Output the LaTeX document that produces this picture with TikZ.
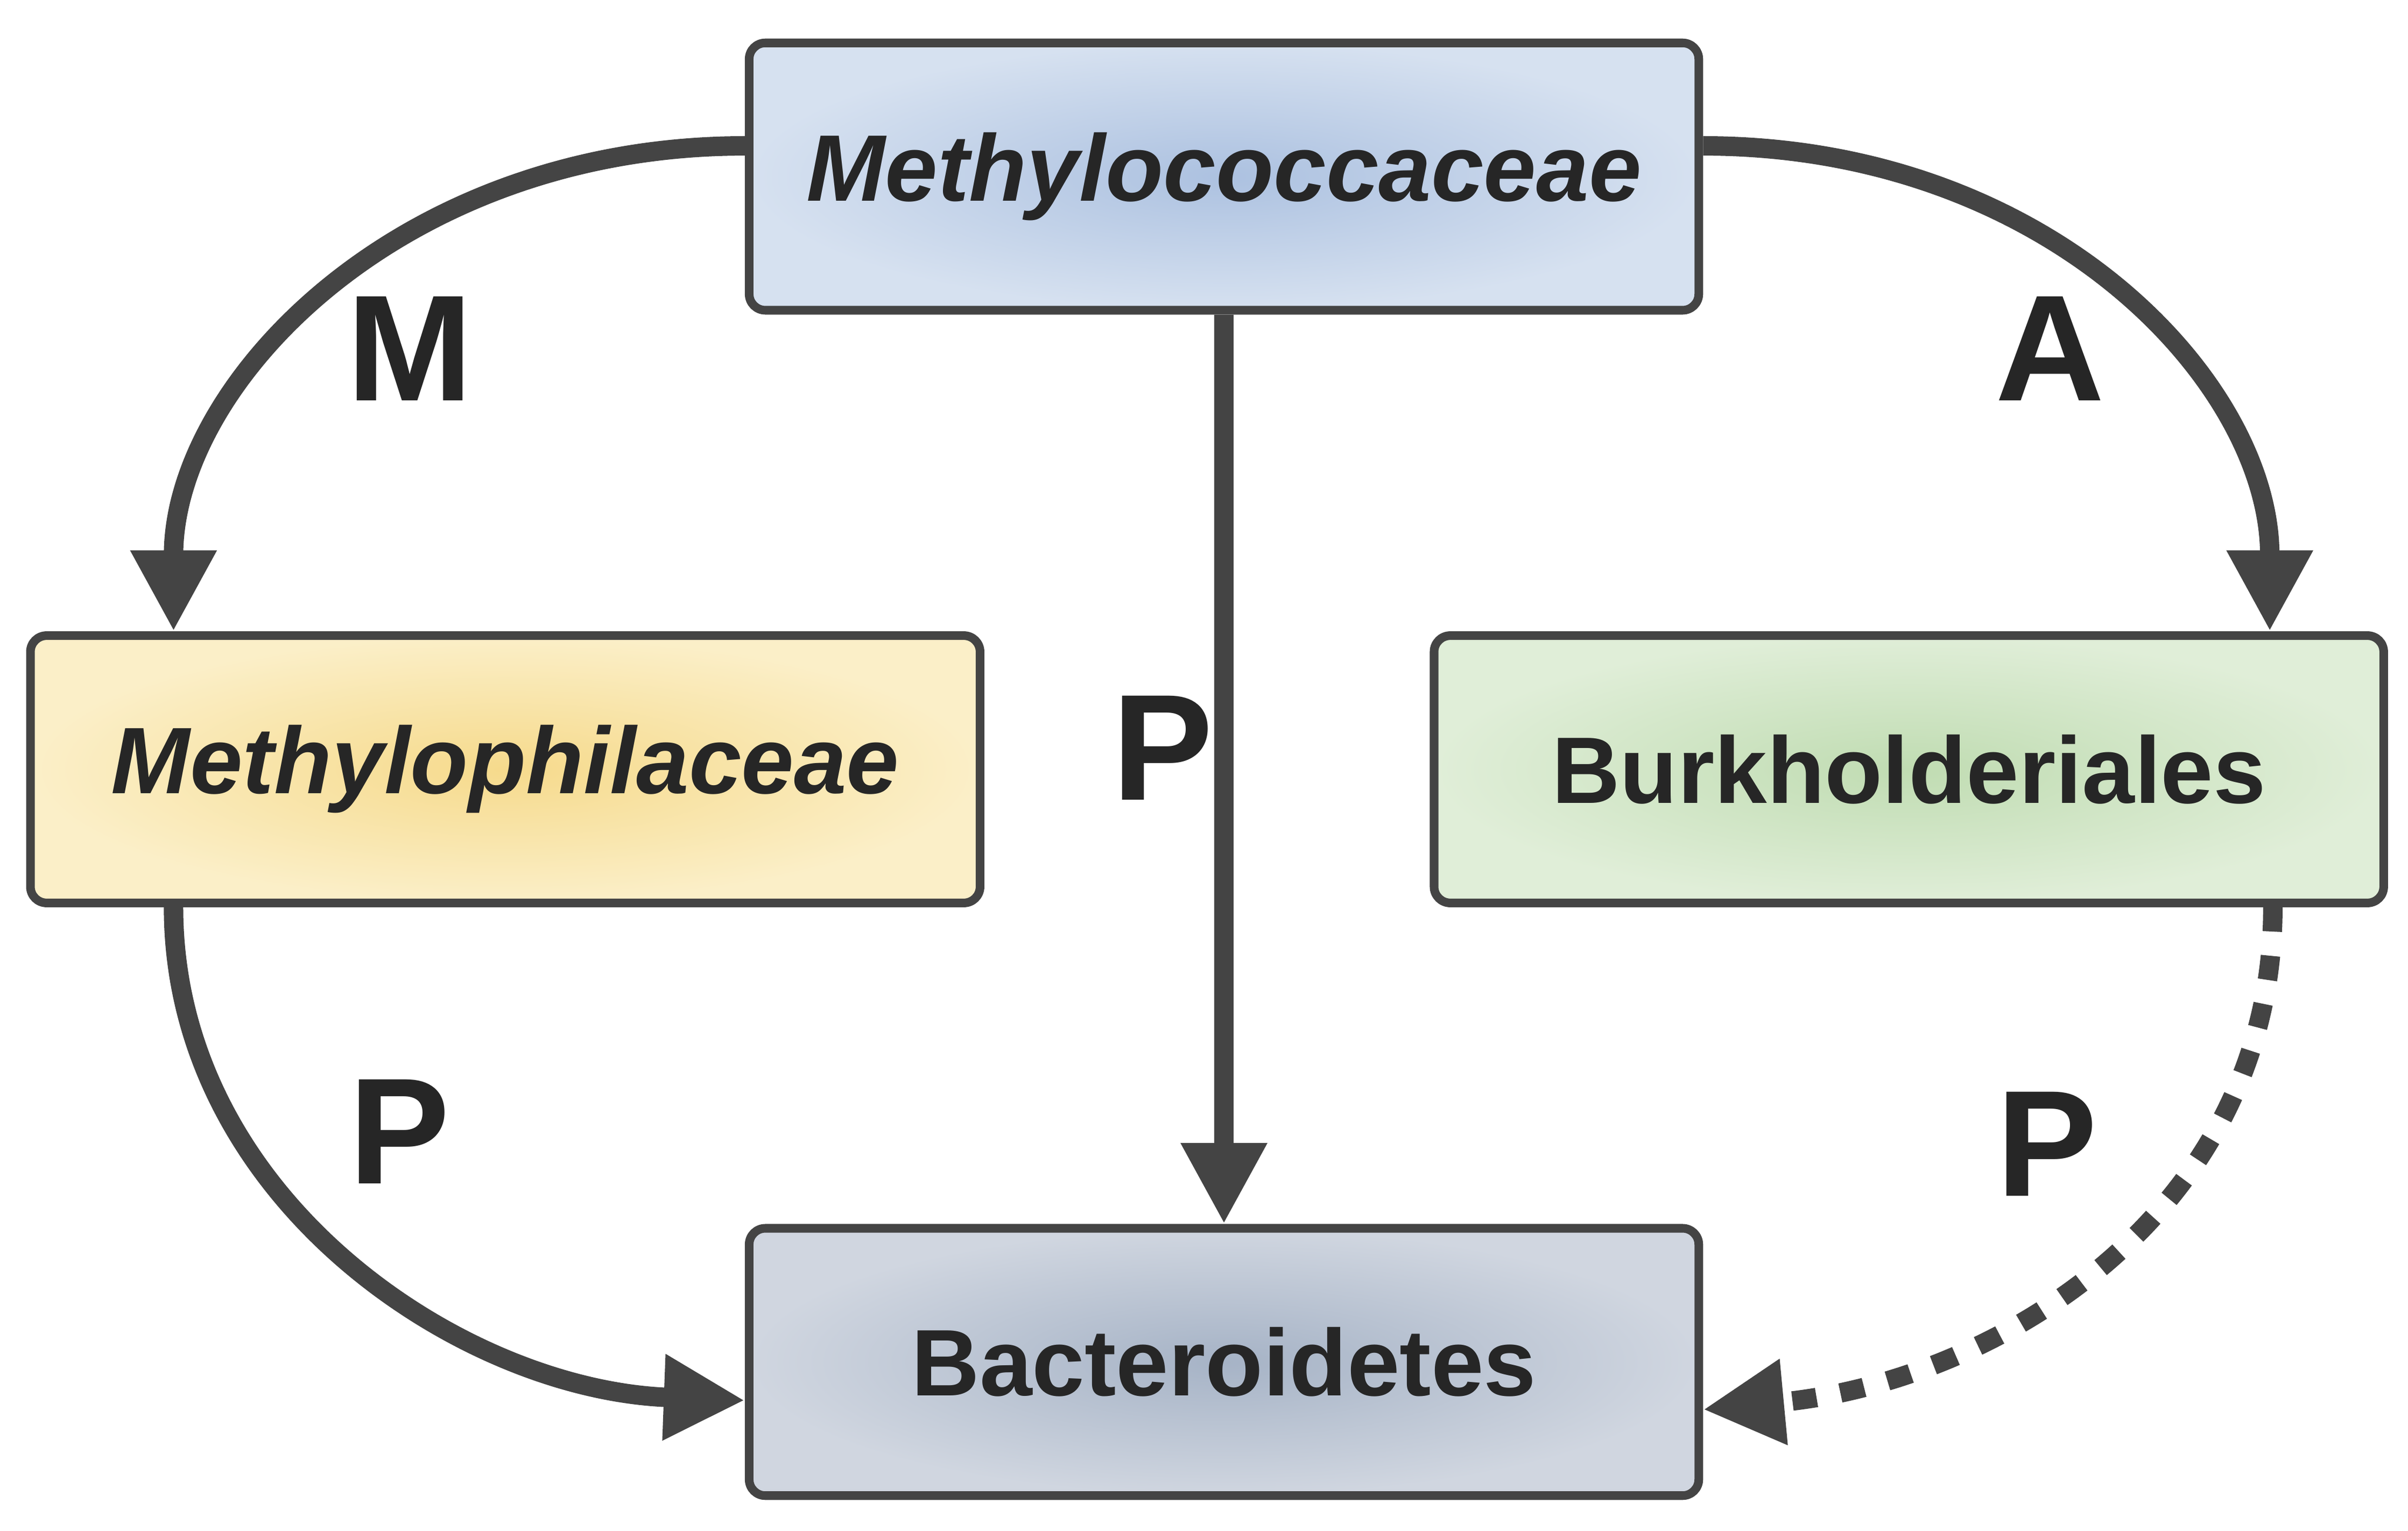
\documentclass[tikz,border=0pt]{standalone}
\usepackage{fontspec}
\setmainfont{Liberation Sans}
\usetikzlibrary{arrows.meta}
\definecolor{ln}{HTML}{444444}
\begin{document}
\begin{tikzpicture}[x=0.01cm,y=-0.01cm,
  box/.style={draw=ln,line width=1.6pt,rounded corners=3pt,inner sep=0pt,minimum width=6.18cm,minimum height=1.74cm,font=\fontsize{17.5}{20}\selectfont\bfseries,text=black!85},
  arr/.style={draw=ln,line width=3.6pt,-{Triangle[width=15pt,length=15pt]}},
  lab/.style={font=\fontsize{28}{32}\selectfont\bfseries,text=black!85}]
\useasboundingbox (0,0) rectangle (1568,997);
\node[box,inner color={rgb,255:red,172;green,193;blue,224},outer color={rgb,255:red,214;green,225;blue,240}] (mc) at (797,115) {\itshape Methylococcaceae};
\node[box,inner color={rgb,255:red,246;green,218;blue,140},outer color={rgb,255:red,251;green,239;blue,200}] (mp) at (329,501) {\itshape Methylophilaceae};
\node[box,inner color={rgb,255:red,192;green,220;blue,178},outer color={rgb,255:red,224;green,238;blue,216}] (bu) at (1243,501) {Burkholderiales};
\node[box,inner color={rgb,255:red,166;green,179;blue,198},outer color={rgb,255:red,208;green,214;blue,224}] (ba) at (797,887) {Bacteroidetes};
\coordinate (m1) at (mc.west |- 0,95);
\coordinate (a1) at (mc.east |- 0,95);
\draw[arr] (m1) .. controls (260,95) and (113,250) .. (mp.north -| 113,0);
\draw[arr] (a1) .. controls (1335,95) and (1478,250) .. (bu.north -| 1478,0);
\draw[arr] (mc.south) -- (ba.north);
\draw[arr] (mp.south -| 113,0) .. controls (113,780) and (300,905) .. (ba.west |- 0,912);
\draw[arr,dash pattern=on 4.5pt off 4.5pt] (bu.south -| 1480,0) .. controls (1480,790) and (1300,900) .. (ba.east |- 0,918);
\node[lab] (lm) at (267,227) {M};
\node[lab] (lp1) at (757,487) {P};
\node[lab] (la) at (1335,227) {A};
\node[lab] (lp2) at (260,737) {P};
\node[lab] (lp3) at (1333,745) {P};
\end{tikzpicture}
\end{document}
